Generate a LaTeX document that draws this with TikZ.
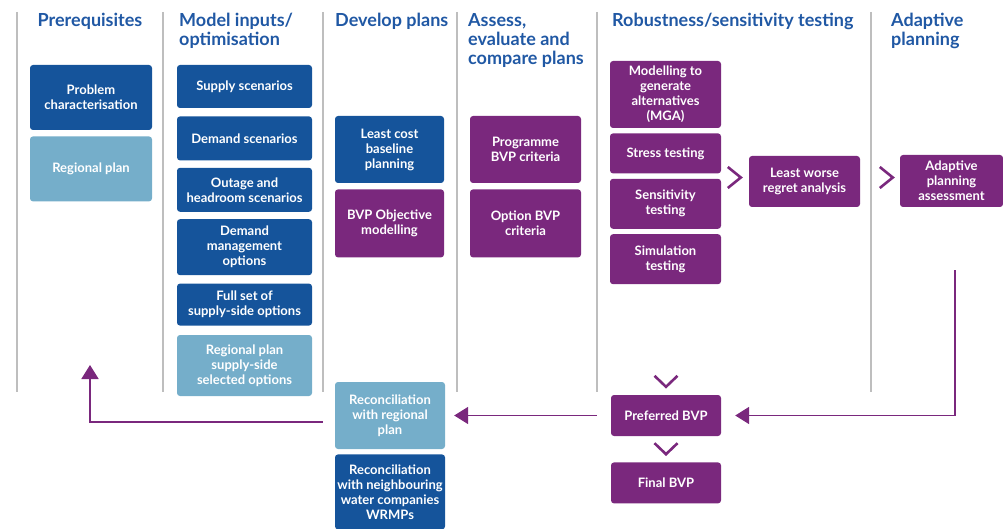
\documentclass[tikz,border=0pt]{standalone}
\usepackage{fontspec}
\setmainfont{Lato}
\usepackage{xcolor}
\usepackage{tikz}
\usetikzlibrary{arrows.meta, positioning, calc}
\definecolor{hdrblue}{RGB}{32,88,164}
\definecolor{darkblue}{RGB}{21,84,155}
\definecolor{paleblue}{RGB}{117,174,202}
\definecolor{plum}{RGB}{122,40,125}
\definecolor{divgray}{RGB}{190,190,190}

\begin{document}
\begin{tikzpicture}[
    x=1pt, y=-1pt,
    header/.style={anchor=north west, inner sep=0pt, align=left, text=hdrblue, font=\fontsize{18}{19}\selectfont\bfseries},
    box/.style={rectangle, rounded corners=3pt, inner sep=2pt, align=center, text=white, font=\fontsize{13}{15}\selectfont\bfseries},
    dark/.style={box, fill=darkblue},
    pale/.style={box, fill=paleblue},
    purp/.style={box, fill=plum},
    divider/.style={draw=divgray, line width=1.2pt},
    chev/.style={draw=plum, line width=2.6pt, line join=miter},
    flow/.style={draw=plum, line width=1.8pt, line join=miter, -{Triangle[length=14pt, width=17pt]}}
]
\useasboundingbox (0,0) rectangle (1003,529);

\foreach \x in {17,163,323,457,597,871}
    \draw[divider] (\x,12) -- (\x,392);

\node[header, anchor=north] (h1) at (90,13) {Prerequisites};
\node[header] (h2) at (179,13) {Model inputs/\\optimisation};
\node[header] (h3) at (335,13) {Develop plans};
\node[header] (h4) at (468,13) {Assess,\\evaluate and\\compare plans};
\node[header] (h5) at (612,13) {Robustness/sensitivity testing};
\node[header] (h6) at (891,13) {Adaptive\\planning};

\node[dark, minimum width=122pt, minimum height=65pt] (prob) at (91,97.5) {Problem\\characterisation};
\node[pale, minimum width=122pt, minimum height=65pt, below=6pt of prob] (regplan) {Regional plan};

\node[dark, minimum width=135pt, minimum height=43pt] (supply) at (244.5,86.5) {Supply scenarios};
\node[dark, minimum width=135pt, minimum height=44pt, below=8pt of supply] (demand) {Demand scenarios};
\node[dark, minimum width=135pt, minimum height=44pt, below=7pt of demand] (outage) {Outage and\\headroom scenarios};
\node[dark, minimum width=135pt, minimum height=56pt, below=7pt of outage] (dmo) {Demand\\management\\options};
\node[dark, minimum width=135pt, minimum height=42pt, below=8pt of dmo] (fullset) {Full set of\\supply-side options};
\node[pale, minimum width=135pt, minimum height=61pt, below=9pt of fullset] (regsel) {Regional plan\\supply-side\\selected options};

\node[dark, minimum width=109pt, minimum height=67pt] (leastcost) at (389.5,149.5) {Least cost\\baseline\\planning};
\node[purp, minimum width=109pt, minimum height=68pt, below=6pt of leastcost] (bvpobj) {BVP Objective\\modelling};

\node[purp, minimum width=111pt, minimum height=67pt] (progbvp) at (525.5,149.5) {Programme\\BVP criteria};
\node[purp, minimum width=111pt, minimum height=68pt, below=6pt of progbvp] (optbvp) {Option BVP\\criteria};

\node[purp, minimum width=111pt, minimum height=67pt] (mga) at (665.5,94.5) {Modelling to\\generate\\alternatives\\(MGA)};
\node[purp, minimum width=111pt, minimum height=40pt, below=5pt of mga] (stress) {Stress testing};
\node[purp, minimum width=111pt, minimum height=50pt, below=5pt of stress] (sens) {Sensitivity\\testing};
\node[purp, minimum width=111pt, minimum height=50pt, below=5pt of sens] (sim) {Simulation\\testing};

\node[purp, minimum width=111pt, minimum height=51pt] (worse) at (804.5,181.5) {Least worse\\regret analysis};
\node[purp, minimum width=103pt, minimum height=52pt] (adapt) at (951.5,181) {Adaptive\\planning\\assessment};

\node[pale, minimum width=110pt, minimum height=67pt] (reconreg) at (390,415.5) {Reconciliation\\with regional\\plan};
\node[dark, minimum width=110pt, minimum height=75pt, below=5pt of reconreg] (reconnb) {Reconciliation\\with neighbouring\\water companies\\WRMPs};

\node[purp, minimum width=110pt, minimum height=41pt] (pref) at (666,415.5) {Preferred BVP};
\node[purp, minimum width=110pt, minimum height=41pt, below=26pt of pref] (final) {Final BVP};

\draw[chev] ([xshift=-21pt,yshift=14.5pt]worse.west) -- ++(13pt,-10.5pt) -- ++(-13pt,-10.5pt);
\draw[chev] ([xshift=-20pt,yshift=14pt]adapt.west) -- ++(13pt,-10.5pt) -- ++(-13pt,-10.5pt);
\draw[chev] ([xshift=-11.5pt,yshift=19pt]pref.north) -- ++(11.5pt,-11pt) -- ++(11.5pt,11pt);
\draw[chev] ([xshift=-11.5pt,yshift=19pt]final.north) -- ++(11.5pt,-11pt) -- ++(11.5pt,11pt);

\coordinate (uptip) at (90,365);
\coordinate (adfoot) at (955,270);
\draw[flow] ([xshift=-12pt,yshift=-6.5pt]reconreg.west) -| (uptip);
\draw[flow] ([xshift=-14pt]pref.west) -- ([xshift=9pt]reconreg.east);
\draw[flow] (adfoot) |- ([xshift=14pt]pref.east);
\end{tikzpicture}
\end{document}
